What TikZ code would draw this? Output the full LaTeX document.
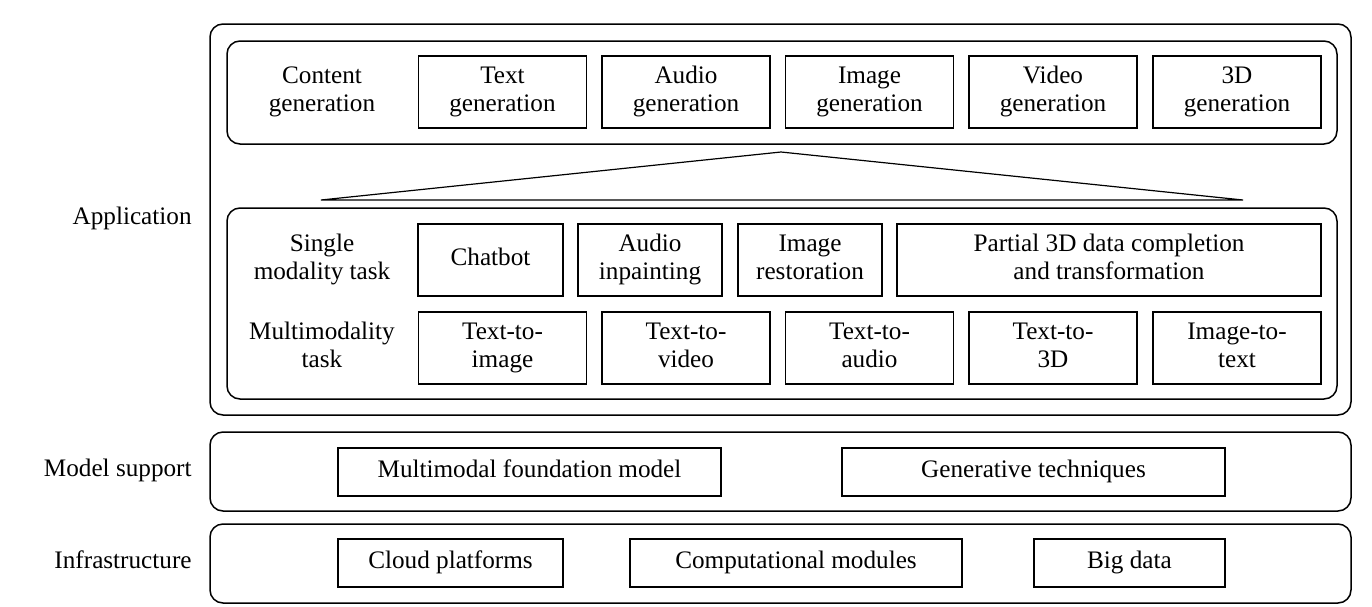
\documentclass[tikz,border=0pt]{standalone}
\usepackage{fontspec}
\setmainfont{Liberation Serif}
\usepackage{tikz}
\usetikzlibrary{calc,positioning}

\newcommand{\lowstrut}{\rule[-3pt]{0pt}{11pt}}
\tikzset{
  layer/.style={draw=black,line width=0.75pt,rounded corners=6.5pt},
  taskbox/.style={draw=black,line width=0.65pt,rectangle,align=center,inner sep=0pt,minimum height=36pt,minimum width=84pt,
                  execute at begin node=\lowstrut,execute at end node=\lowstrut},
  flatbox/.style={taskbox,minimum height=24pt},
  rowlabel/.style={align=center,inner sep=0pt,execute at begin node=\lowstrut,execute at end node=\lowstrut},
  sidelabel/.style={anchor=east,inner sep=0pt,execute at begin node=\lowstrut}
}

\begin{document}
\begin{tikzpicture}[x=0.5pt,y=-0.5pt,font=\fontsize{12.6}{13.8}\selectfont]
  \useasboundingbox (0,0) rectangle (1372,606);
  % Coordinates
  \coordinate (top) at (781,152);
  \coordinate (baseL) at (321,200);
  \coordinate (baseR) at (1243,200);
  % Layers
  \draw[layer] (210,24) rectangle (1351,415);
  \draw[layer] (227,41) rectangle (1337,144);
  \draw[layer] (227,208) rectangle (1337,399);
  \draw[layer] (210,432) rectangle (1351,511);
  \draw[layer] (210,524) rectangle (1351,603);
  % Wedge between the two application blocks
  \draw[line width=0.6pt,line join=miter] (top)--(baseL)--(baseR)--cycle;
  % Side labels
  \node[sidelabel] (app) at (192,219) {Application};
  \node[sidelabel] (model) at (192,471) {Model support};
  \node[sidelabel] (infra) at (192,563) {Infrastructure};
  % Content generation
  \node[rowlabel] (content) at (322,92) {Content\\generation};
  \foreach \n/\x/\t in {textgen/502.5/Text, audiogen/686/Audio, imagegen/869.5/Image,
                        videogen/1053/Video, threedgen/1237/3D} {
    \node[taskbox] (\n) at (\x,92) {\t\\generation};
  }
  % Single modality task
  \node[rowlabel] (single) at (322,260) {Single\\modality task};
  \node[taskbox,minimum width=72.5pt] (chatbot) at (490.5,260) {Chatbot};
  \node[taskbox,minimum width=72pt] (inpaint) at (650,260) {Audio\\inpainting};
  \node[taskbox,minimum width=72pt] (restore) at (810,260) {Image\\restoration};
  \node[taskbox,minimum width=212pt] (partial) at (1109,260) {Partial 3D data completion\\and transformation};
  % Multimodality task
  \node[rowlabel] (multi) at (322,348) {Multimodality\\task};
  \foreach \n/\x/\t in {t2i/502.5/{Text-to-\\image}, t2v/686/{Text-to-\\video}, t2a/869.5/{Text-to-\\audio},
                        t23d/1053/{Text-to-\\3D}, i2t/1237/{Image-to-\\text}} {
    \node[taskbox] (\n) at (\x,348) {\t};
  }
  % Model support
  \node[flatbox,minimum width=191.5pt] (foundation) at (529.5,472) {Multimodal foundation model};
  \node[flatbox,minimum width=191.5pt] (generative) at (1033.5,472) {Generative techniques};
  % Infrastructure
  \node[flatbox,minimum width=112.5pt] (cloud) at (450.5,563) {Cloud platforms};
  \node[flatbox,minimum width=166pt] (compute) at (796,563) {Computational modules};
  \node[flatbox,minimum width=95.5pt] (bigdata) at (1129.5,563) {Big data};
\end{tikzpicture}
\end{document}
